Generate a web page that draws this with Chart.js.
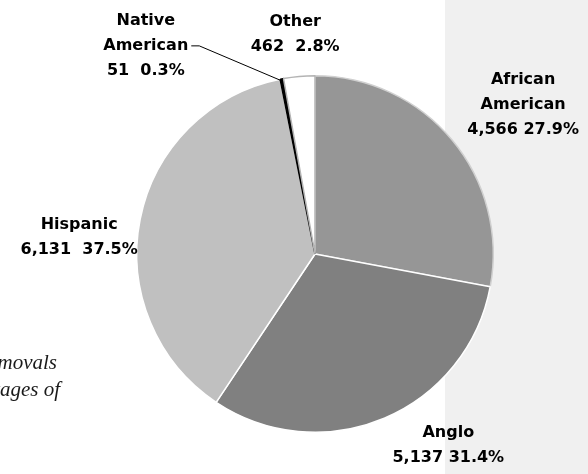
<!DOCTYPE html>
<html>
<head>
<meta charset="utf-8">
<script src="https://cdn.jsdelivr.net/npm/chart.js@4.4.0/dist/chart.umd.min.js"></script>
<style>
    html, body { margin: 0; padding: 0; background: #ffffff; }
    #wrap { width: 588px; height: 474px; position: relative; }
</style>
</head>
<body>
<div id="wrap"><canvas id="pieChart" width="588" height="474"></canvas></div>
<script>
// ========================================
// REMOVALS BY ETHNICITY - PIE
// ========================================

const groups = ['African American', 'Anglo', 'Hispanic', 'Native American', 'Other'];
const counts = [4566, 5137, 6131, 51, 462];
const percents = ['27.9%', '31.4%', '37.5%', '0.3%', '2.8%'];

// Linhas de cada rótulo
const labelLines = [
    ['African', 'American', '4,566 27.9%'],
    ['Anglo', '5,137 31.4%'],
    ['Hispanic', '6,131  37.5%'],
    ['Native', 'American', '51  0.3%'],
    ['Other', '462  2.8%']
];

const sliceColors = ['#969696', '#808080', '#c0c0c0', '#000000', '#ffffff'];
const sliceBorders = ['#d0d0d0', '#ffffff', '#ffffff', '#000000', '#b4b4b4'];

// deslocamento do rótulo a partir da borda da fatia (meio do arco)
const labelOffsets = [[71, -35], [64, 27], [-61, 18], [-136, -33], [-4, -42]];

const fontFamily = '"DejaVu Sans", sans-serif';
const lineHeight = 25;

// Fundo cinza do lado direito + texto cortado
const backgroundPlugin = {
    id: 'panel',
    beforeDraw(chart) {
        const ctx = chart.ctx;
        ctx.save();
        ctx.fillStyle = '#f0f0f0';
        ctx.fillRect(445, 0, chart.width - 445, chart.height);

        ctx.fillStyle = '#1a1a1a';
        ctx.font = 'italic 21px "Liberation Serif", serif';
        ctx.textAlign = 'right';
        ctx.textBaseline = 'alphabetic';
        ctx.fillText('Children removals', 57, 369);
        ctx.fillText('by percentages of', 60, 396);
        ctx.restore();
    }
};

const labelPlugin = {
    id: 'sliceLabels',
    afterDatasetsDraw(chart) {
        const ctx = chart.ctx;
        const meta = chart.getDatasetMeta(0);
        ctx.save();
        ctx.font = 'bold 16px ' + fontFamily;
        ctx.fillStyle = '#000000';
        ctx.textAlign = 'center';
        ctx.textBaseline = 'middle';

        meta.data.forEach((arc, i) => {
            const mid = (arc.startAngle + arc.endAngle) / 2;
            const ex = arc.x + Math.cos(mid) * arc.outerRadius;
            const ey = arc.y + Math.sin(mid) * arc.outerRadius;
            const cx = ex + labelOffsets[i][0];
            const cy = ey + labelOffsets[i][1];
            const lines = labelLines[i];
            const top = cy - (lines.length - 1) * lineHeight / 2;
            lines.forEach((line, j) => {
                ctx.fillText(line, cx, top + j * lineHeight);
            });

            // linha guia do Native American
            if (groups[i] === 'Native American') {
                const w = ctx.measureText(lines[1]).width;
                const lx = cx + w / 2 + 3;
                ctx.beginPath();
                ctx.strokeStyle = '#000000';
                ctx.lineWidth = 1;
                ctx.moveTo(lx, cy);
                ctx.lineTo(lx + 8, cy);
                ctx.lineTo(ex, ey + 2);
                ctx.stroke();
            }
        });
        ctx.restore();
    }
};

const ctx = document.getElementById('pieChart').getContext('2d');

new Chart(ctx, {
    type: 'pie',
    data: {
        labels: groups,
        datasets: [{
            data: counts,
            backgroundColor: sliceColors,
            borderColor: sliceBorders,
            borderWidth: 1.5,
            hoverOffset: 0
        }]
    },
    options: {
        responsive: false,
        animation: false,
        layout: {
            padding: { top: 75, bottom: 41, left: 136, right: 94 }
        },
        plugins: {
            legend: { display: false },
            tooltip: { enabled: false }
        },
        events: []
    },
    plugins: [backgroundPlugin, labelPlugin]
});
</script>
</body>
</html>
